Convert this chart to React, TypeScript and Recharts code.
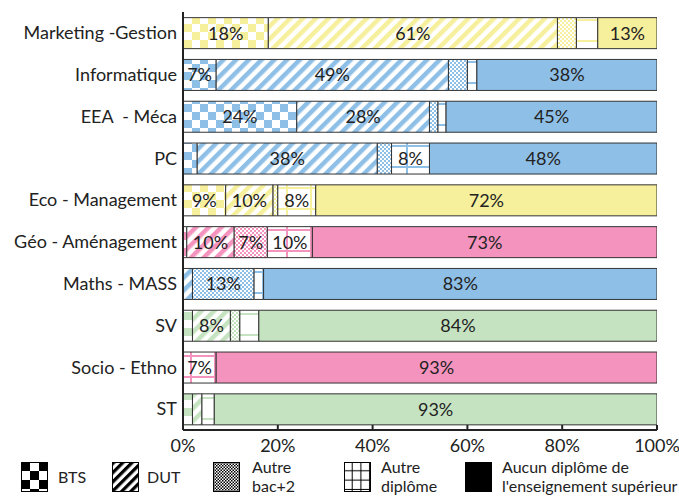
import React from "react";
import {
  BarChart,
  Bar,
  XAxis,
  YAxis,
  Cell,
  LabelList,
  Legend,
} from "recharts";

const categories = [
  "Marketing -Gestion",
  "Informatique",
  "EEA\u00A0 - Méca",
  "PC",
  "Eco - Management",
  "Géo - Aménagement",
  "Maths - MASS",
  "SV",
  "Socio - Ethno",
  "ST",
];
const rowColors = ["yellow", "blue", "blue", "blue", "yellow", "pink", "blue", "green", "pink", "green"];

// share of graduates per diploma, in %
const bts = [18, 7, 24, 3, 9, 0.8, 0, 2, 0, 2];
const dut = [61, 49, 28, 38, 10, 10, 2, 8, 0, 2];
const autreBac2 = [4, 4, 1.8, 3, 1, 7, 13, 2, 0, 0];
const autreDiplome = [4.5, 2, 1.7, 8, 8, 9.5, 2, 4, 7, 2.6];
const aucun = [12.5, 38, 44.5, 48, 72, 72.7, 83, 84, 93, 93.4];

const xTicks = [0, 20, 40, 60, 80, 100];

const seriesKeys = ["bts", "dut", "bac2", "autre", "aucun"];
const seriesNames = ["BTS", "DUT", "Autre bac+2", "Autre diplôme", "Aucun diplôme de l'enseignement supérieur"];
const legendLines = [["BTS"], ["DUT"], ["Autre", "bac+2"], ["Autre", "diplôme"], ["Aucun diplôme de", "l'enseignement supérieur"]];

const palette: Record<string, string> = {
  yellow: "#F6EF9C",
  blue: "#8EBFE7",
  pink: "#F494BE",
  green: "#C6E3C1",
};

const data = categories.map((name, i) => ({
  name,
  color: rowColors[i],
  bts: bts[i],
  dut: dut[i],
  bac2: autreBac2[i],
  autre: autreDiplome[i],
  aucun: aucun[i],
}));

const FONT = "Lato, 'DejaVu Sans', sans-serif";
const INK = "#222";
const FS = 18;

// fill patterns for one colour
const PatternSet = ({
  id,
  color,
  check = 8,
  stripe = 9,
  fine = 2,
  grid = 24,
  gridH = 21,
  line = 2,
}: {
  id: string;
  color: string;
  check?: number;
  stripe?: number;
  fine?: number;
  grid?: number;
  gridH?: number;
  line?: number;
}) => (
  <>
    <pattern id={`bts-${id}`} width={check * 2} height={check * 2} patternUnits="userSpaceOnUse">
      <rect width={check * 2} height={check * 2} fill="#fff" />
      <rect width={check} height={check} fill={color} />
      <rect x={check} y={check} width={check} height={check} fill={color} />
    </pattern>
    <pattern id={`dut-${id}`} width={stripe} height={stripe} patternUnits="userSpaceOnUse" patternTransform="rotate(45)">
      <rect width={stripe} height={stripe} fill="#fff" />
      <rect width={stripe / 2} height={stripe} fill={color} />
    </pattern>
    <pattern id={`bac2-${id}`} width={fine * 2} height={fine * 2} patternUnits="userSpaceOnUse">
      <rect width={fine * 2} height={fine * 2} fill="#fff" />
      <rect width={fine} height={fine} fill={color} />
      <rect x={fine} y={fine} width={fine} height={fine} fill={color} />
    </pattern>
    <pattern id={`autre-${id}`} width={grid} height={gridH} patternUnits="userSpaceOnUse">
      <rect width={grid} height={gridH} fill="#fff" />
      <rect x={grid - line} width={line} height={gridH} fill={color} />
      <rect y={gridH - line} width={grid} height={line} fill={color} />
    </pattern>
  </>
);

const legendBox = [
  { left: 21, text: 58 },
  { left: 112, text: 147 },
  { left: 213, text: 252 },
  { left: 344, text: 381 },
  { left: 465, text: 502 },
];

const LegendContent = () => (
  <div style={{ position: "relative", height: 37, width: 679, fontFamily: FONT, fontSize: 16, color: INK }}>
    {seriesKeys.map((k, i) => (
      <React.Fragment key={k}>
        <svg width={27} height={30} style={{ position: "absolute", left: legendBox[i].left, top: 4 }}>
          <defs>
            <PatternSet id={`lg${i}`} color="#000" check={9} stripe={6.5} fine={1.5} grid={8.7} gridH={9.3} line={1} />
          </defs>
          <rect
            x={0.5}
            y={0.5}
            width={26}
            height={29}
            fill={k === "aucun" ? "#000" : `url(#${k}-lg${i})`}
            stroke="#000"
          />
        </svg>
        <div
          style={{
            position: "absolute",
            left: legendBox[i].text,
            top: legendLines[i].length > 1 ? -1 : 9,
            lineHeight: "19px",
            whiteSpace: "nowrap",
          }}
        >
          {legendLines[i].map((l) => (
            <div key={l}>{l}</div>
          ))}
        </div>
      </React.Fragment>
    ))}
  </div>
);

export default function App() {
  return (
    <div
      style={{
        position: "absolute",
        left: 0,
        top: 0,
        width: 679,
        height: 497,
        background: "#fff",
        fontFamily: FONT,
      }}
    >
      <BarChart
        width={679}
        height={497}
        data={data}
        layout="vertical"
        margin={{ top: 12, right: 22, bottom: 0, left: 0 }}
        barCategoryGap="13.5%"
      >
        <defs>
          {Object.keys(palette).map((c) => (
            <PatternSet key={c} id={c} color={palette[c]} />
          ))}
        </defs>
        <XAxis
          type="number"
          domain={[0, 100]}
          ticks={xTicks}
          tickFormatter={(v) => `${v}%`}
          tickSize={-5}
          tickMargin={14}
          height={30}
          axisLine={{ stroke: INK, strokeWidth: 2 }}
          tickLine={{ stroke: INK, strokeWidth: 2 }}
          tick={{ fill: INK, fontSize: FS }}
          allowDataOverflow
        />
        <YAxis
          type="category"
          dataKey="name"
          width={183}
          interval={0}
          tickLine={false}
          tickSize={0}
          tickMargin={6}
          axisLine={{ stroke: INK, strokeWidth: 2 }}
          tick={{ fill: INK, fontSize: FS }}
        />
        {seriesKeys.map((k, si) => (
          <Bar
            key={k}
            dataKey={k}
            name={seriesNames[si]}
            stackId="a"
            stroke="#333"
            strokeWidth={1}
            isAnimationActive={false}
          >
            {data.map((d) => (
              <Cell key={d.name} fill={k === "aucun" ? palette[d.color] : `url(#${k}-${d.color})`} />
            ))}
            <LabelList
              dataKey={k}
              position="center"
              fill={INK}
              fontSize={FS}
              formatter={(v: number) => (v >= 5 ? `${Math.round(v)}%` : "")}
            />
          </Bar>
        ))}
        <Legend
          content={<LegendContent />}
          wrapperStyle={{ position: "absolute", top: 458, left: 0, bottom: "auto", width: 679 }}
        />
      </BarChart>
    </div>
  );
}
